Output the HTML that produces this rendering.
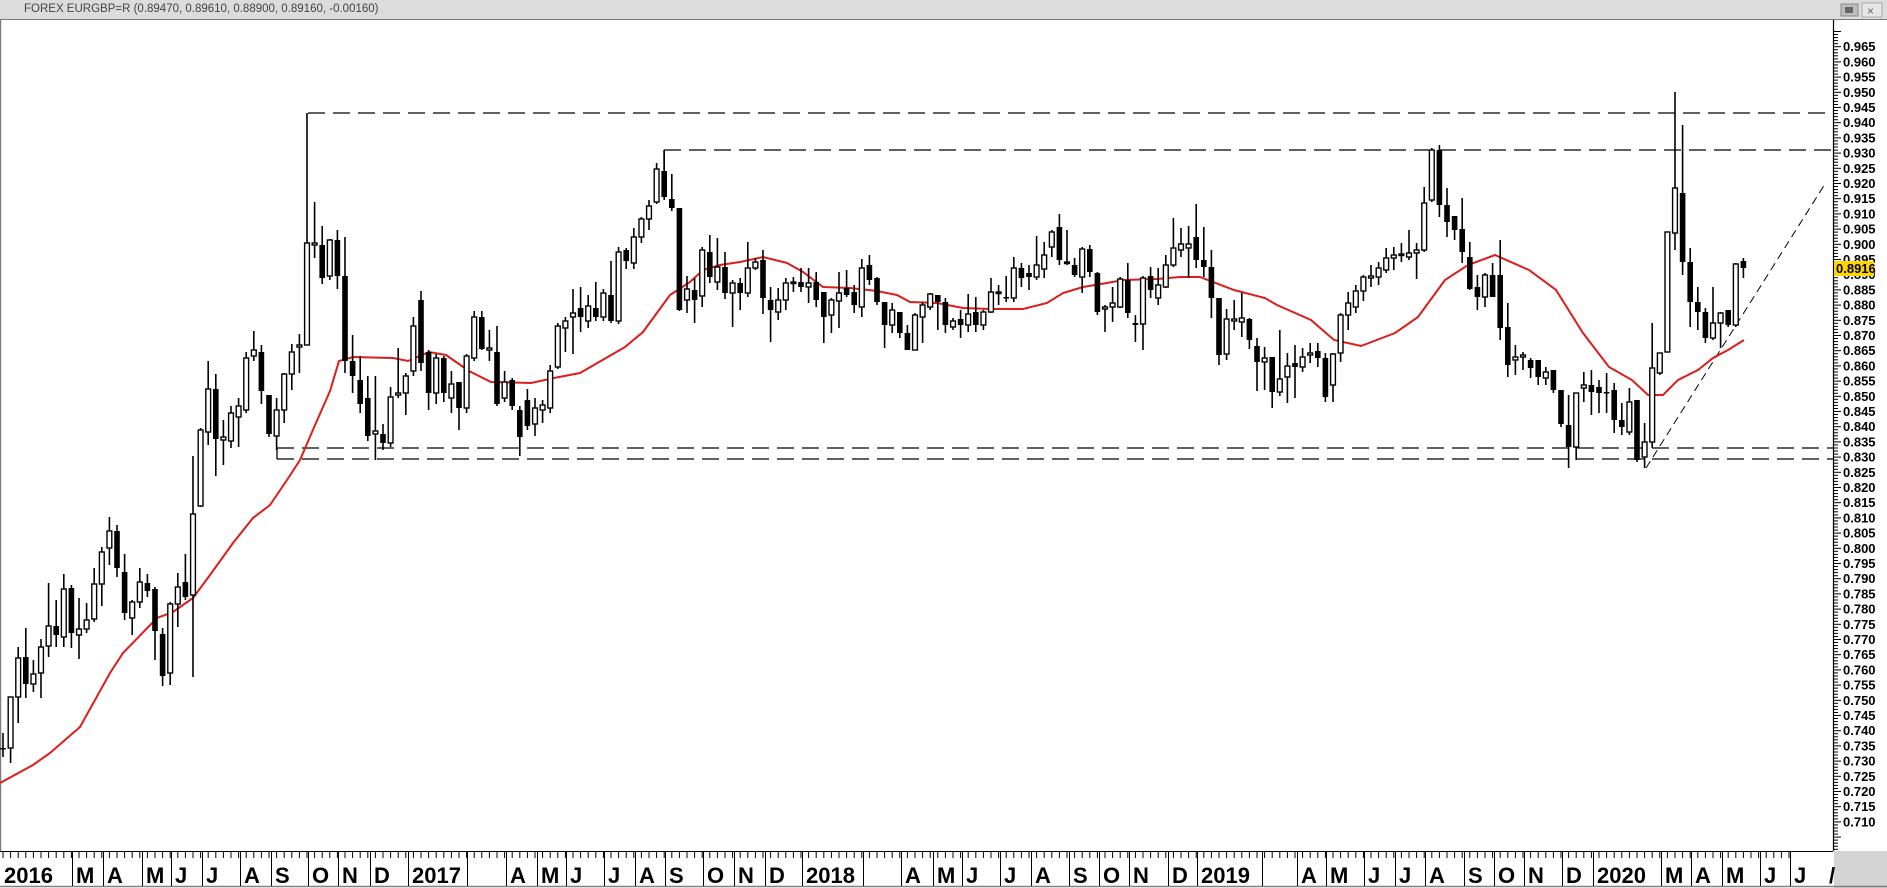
<!DOCTYPE html>
<html><head><meta charset="utf-8">
<style>
html,body{margin:0;padding:0;background:#fff;}
body{width:1887px;height:888px;overflow:hidden;position:relative;font-family:"Liberation Sans",Arial,sans-serif;}
#title{position:absolute;left:0;top:0;width:1887px;height:20px;background:#dcdcdc;border-bottom:1px solid #7a7a7a;box-sizing:border-box;}
#title span{position:absolute;left:24px;top:3px;font-size:11.5px;color:#444;}
svg{position:absolute;left:0;top:0;}
</style></head><body>
<div id="title"><span>FOREX EURGBP=R (0.89470, 0.89610, 0.88900, 0.89160, -0.00160)</span></div>
<svg id="c" width="1887" height="888" xmlns="http://www.w3.org/2000/svg" style="top:0">
<g id="g"></g>
</svg>
<script>
var C=[[748,749,733,757,1],[697,748,697,763,0],[658,697,647,723,0],[657,684,628,698,1],[674,684,660,692,0],[647,673,639,698,0],[626,646,583,657,0],[626,635,600,647,1],[589,637,574,647,0],[588,633,585,648,1],[629,635,598,659,0],[620,629,603,633,0],[584,619,568,622,0],[552,584,547,606,0],[531,548,517,565,0],[531,568,525,577,1],[572,613,554,620,1],[602,618,600,635,0],[582,602,568,608,0],[583,591,574,597,1],[589,631,587,660,1],[634,676,628,686,1],[604,673,602,685,0],[587,604,573,627,0],[582,597,554,600,1],[514,595,456,677,0],[430,506,428,507,0],[389,432,361,445,0],[389,439,374,476,1],[437,440,420,465,0],[413,441,406,448,0],[406,417,398,447,0],[358,410,352,413,0],[350,356,331,361,0],[352,391,345,404,1],[395,434,395,437,1],[410,436,398,450,0],[374,410,373,423,0],[352,374,344,390,0],[345,347,334,373,0],[243,345,113,345,0],[243,245,202,258,0],[245,278,226,284,1],[240,276,239,280,0],[240,276,230,289,1],[276,361,237,373,1],[361,376,335,393,1],[380,404,356,413,1],[398,436,376,441,1],[431,434,376,460,0],[434,443,424,450,1],[397,443,387,447,0],[393,395,348,398,0],[376,393,373,415,0],[326,371,317,376,0],[300,363,291,371,1],[352,393,350,410,1],[358,393,354,404,0],[358,393,356,402,1],[384,398,371,413,0],[382,408,382,430,1],[356,408,354,413,0],[317,358,311,361,0],[317,349,311,350,1],[348,350,330,361,0],[352,404,326,406,1],[382,398,371,402,0],[380,406,378,410,1],[410,437,406,456,1],[400,426,389,430,1],[408,424,398,436,0],[405,410,400,423,0],[371,408,365,413,0],[326,367,323,369,0],[321,328,317,352,0],[313,317,289,354,0],[308,317,287,332,1],[306,321,295,328,0],[308,317,282,321,1],[293,317,289,321,0],[295,321,261,323,1],[252,321,247,324,0],[250,261,248,269,1],[237,263,228,269,0],[219,237,217,243,0],[206,219,200,230,0],[169,202,163,204,0],[171,197,150,200,1],[199,208,174,211,1],[208,310,208,311,1],[289,300,276,313,0],[290,300,278,323,1],[250,296,247,307,0],[252,277,235,283,1],[267,282,238,290,0],[267,293,252,299,1],[283,293,280,327,0],[283,293,278,310,1],[268,293,242,297,0],[262,268,258,270,0],[260,298,250,314,1],[300,310,287,342,1],[300,312,288,320,0],[283,300,278,310,0],[282,283,277,292,0],[282,287,268,292,1],[283,287,268,303,0],[282,300,272,307,1],[292,317,292,343,1],[300,315,298,333,0],[293,301,272,328,0],[288,295,270,297,1],[292,305,285,313,1],[268,307,259,317,0],[265,280,255,285,1],[278,302,277,305,1],[302,325,302,348,1],[310,325,303,333,0],[312,333,312,338,1],[333,350,325,350,1],[315,350,313,350,0],[305,317,302,343,0],[294,307,293,310,0],[295,302,295,330,1],[302,325,298,333,1],[321,327,318,330,0],[319,325,310,338,1],[314,325,294,332,0],[312,325,297,332,1],[312,325,310,330,0],[292,312,278,313,0],[292,293,285,305,0],[297,298,276,302,1],[268,298,257,302,0],[268,278,263,287,1],[273,277,265,290,1],[265,277,236,280,0],[255,269,242,278,0],[232,247,230,257,0],[227,260,214,265,1],[262,263,230,265,0],[265,275,258,277,1],[249,277,247,293,0],[249,272,245,277,1],[273,312,272,315,1],[307,309,305,332,0],[303,307,287,322,0],[279,307,277,308,0],[280,313,263,318,1],[323,325,315,342,1],[278,324,276,350,0],[276,290,267,298,1],[285,298,268,305,0],[265,287,255,288,0],[248,265,218,267,0],[244,250,228,257,0],[244,248,226,278,0],[237,260,204,268,1],[260,267,227,277,1],[267,298,250,318,1],[298,355,298,365,1],[319,354,309,360,0],[319,321,300,330,0],[318,322,293,337,0],[319,340,318,349,1],[346,362,338,391,1],[358,362,347,390,0],[357,392,357,408,1],[379,392,330,396,0],[366,377,353,403,0],[363,367,345,398,1],[357,367,348,372,0],[353,355,343,363,0],[351,358,343,367,1],[358,397,353,402,1],[354,385,353,402,0],[315,353,313,362,0],[303,315,292,330,0],[291,307,285,313,0],[277,291,275,301,0],[276,278,265,287,0],[268,277,262,285,0],[258,270,248,273,0],[255,258,247,270,0],[254,255,243,262,0],[253,257,230,260,0],[250,253,243,279,0],[203,250,187,252,0],[150,200,148,202,0],[150,205,145,217,1],[205,222,188,237,1],[216,230,216,240,1],[229,252,198,263,1],[257,289,242,290,1],[287,297,275,310,1],[275,297,273,307,0],[275,297,263,297,1],[275,328,240,340,1],[327,365,303,377,1],[357,360,345,375,0],[355,357,352,370,0],[360,368,358,378,1],[360,377,360,385,1],[372,378,367,385,0],[370,390,370,393,1],[390,424,390,427,1],[425,447,395,468,1],[393,447,393,460,0],[385,388,372,402,0],[385,392,370,415,1],[387,393,380,413,1],[392,393,373,413,1],[390,420,383,433,1],[420,427,403,435,1],[402,432,388,435,0],[400,460,400,462,1],[442,457,423,468,0],[368,442,323,448,0],[353,373,353,375,0],[232,352,232,352,0],[188,233,92,250,0],[193,262,125,275,1],[262,302,248,327,1],[302,312,287,330,1],[312,338,308,343,1],[323,338,287,340,0],[313,323,312,348,0],[310,325,310,327,1],[264,325,263,327,0],[261,268,258,278,1]];
var MA=[[0,783],[33,765],[50,753],[80,727],[110,673],[123,653],[157,618],[173,612],[193,598],[210,575],[233,543],[253,518],[270,505],[287,480],[300,460],[312,432],[330,391],[339,361],[353,357],[393,358],[408,361],[429,352],[446,355],[469,371],[491,382],[531,383],[554,378],[580,373],[625,347],[643,332],[670,295],[690,282],[703,270],[720,265],[740,262],[763,257],[787,263],[803,272],[823,287],[850,288],[877,291],[897,295],[910,302],[937,303],[963,308],[990,309],[1023,309],[1047,303],[1063,293],[1083,287],[1107,283],[1123,280],[1157,279],[1180,277],[1200,277],[1234,290],[1265,298],[1277,305],[1311,320],[1334,340],[1361,346],[1395,333],[1418,317],[1445,280],[1468,265],[1495,255],[1529,270],[1556,290],[1583,333],[1609,367],[1632,380],[1648,395],[1663,395],[1678,380],[1698,370],[1713,358],[1728,350],[1744,340]];
var s='';
// plot frame
s+='<line x1="0.5" y1="20" x2="0.5" y2="851" stroke="#808080" stroke-width="1.5"/>';
// dashed lines
var d='stroke="#000" stroke-width="1.3" stroke-dasharray="17,8" fill="none"';
s+='<line x1="308" y1="113" x2="1833" y2="113" '+d+'/>';
s+='<line x1="664" y1="150" x2="1833" y2="150" '+d+'/>';
s+='<line x1="277" y1="448" x2="1833" y2="448" '+d+'/>';
s+='<line x1="277" y1="459" x2="1833" y2="459" '+d+'/>';
s+='<line x1="277" y1="448" x2="277" y2="459" stroke="#000" stroke-width="1.3"/>';
s+='<line x1="664" y1="150" x2="664" y2="170" stroke="#000" stroke-width="1.3"/>';
s+='<line x1="1646" y1="468" x2="1825" y2="184" stroke="#000" stroke-width="1" stroke-dasharray="8,5"/>';
// MA
s+='<polyline points="'+MA.map(function(p){return p.join(',')}).join(' ')+'" fill="none" stroke="#dd1c1c" stroke-width="2"/>';
// candles
for(var i=0;i<C.length;i++){var c=C[i],x=3+7.6*i;
 s+='<line x1="'+x+'" y1="'+c[2]+'" x2="'+x+'" y2="'+c[3]+'" stroke="#000" stroke-width="1.6"/>';
 var h=Math.max(c[1]-c[0],1.5);
 if(c[4]) s+='<rect x="'+(x-2.8)+'" y="'+c[0]+'" width="5.6" height="'+h+'" fill="#000"/>';
 else s+='<rect x="'+(x-2.4)+'" y="'+c[0]+'" width="4.8" height="'+h+'" fill="#fff" stroke="#000" stroke-width="1.4"/>';
}
// right axis
s+='<rect x="1834" y="851" width="53" height="37" fill="#d4d4d4"/>';
s+='<line x1="1833.5" y1="20" x2="1833.5" y2="851" stroke="#000" stroke-width="1.2"/>';
for(var k=0;k<=270;k++){var v=0.9700-k*0.001;var y=46.7+(0.965-v)*3040;if(y<22||y>850)continue;
 var major=(k%5===0);
 s+='<line x1="1834" y1="'+y.toFixed(1)+'" x2="'+(major?1841:1838)+'" y2="'+y.toFixed(1)+'" stroke="#000" stroke-width="1"/>';
 if(major && v<0.9655 && v>0.7095){s+='<text x="1843" y="'+(y+4.5).toFixed(1)+'" font-family="Liberation Sans,Arial,sans-serif" font-weight="bold" font-size="13" fill="#000">'+v.toFixed(3)+'</text>';}
}
// price tag
s+='<rect x="1834" y="261" width="40" height="15" fill="#ffd400"/>';
s+='<text x="1836" y="273" font-family="Liberation Sans,Arial,sans-serif" font-weight="bold" font-size="13" fill="#000">0.8916</text>';
// x axis
s+='<line x1="0" y1="851.5" x2="1833" y2="851.5" stroke="#000" stroke-width="1"/>';
s+='<line x1="0" y1="886.5" x2="1887" y2="886.5" stroke="#808080" stroke-width="1.5"/>';
for(var i=0;i<236;i++){var x=3+7.6*i;if(x>1832)break;s+='<line x1="'+x+'" y1="852" x2="'+x+'" y2="858" stroke="#000" stroke-width="1"/>';}
var M=[[0,'2016'],[72,'M'],[103,'A'],[142,'M'],[171,'J'],[202,'J'],[240,'A'],[271,'S'],[308,'O'],[338,'N'],[370,'D'],[408,'2017'],[467,''],[506,'A'],[537,'M'],[566,'J'],[604,'J'],[635,'A'],[665,'S'],[703,'O'],[734,'N'],[765,'D'],[802,'2018'],[863,''],[901,'A'],[933,'M'],[962,'J'],[1000,'J'],[1031,'A'],[1069,'S'],[1099,'O'],[1129,'N'],[1168,'D'],[1197,'2019'],[1262,''],[1297,'A'],[1326,'M'],[1364,'J'],[1395,'J'],[1425,'A'],[1464,'S'],[1494,'O'],[1524,'N'],[1562,'D'],[1593,'2020'],[1661,'M'],[1691,'A'],[1722,'M'],[1760,'J'],[1790,'J']];
for(var j=0;j<M.length;j++){var x=M[j][0];
 if(x>0)s+='<line x1="'+x+'.5" y1="852" x2="'+x+'.5" y2="886" stroke="#000" stroke-width="1"/>';
 if(M[j][1])s+='<text x="'+(x+4)+'" y="883" font-family="Liberation Sans,Arial,sans-serif" font-weight="bold" font-size="22" fill="#000">'+M[j][1]+'</text>';
}
s+='<text x="1829" y="883" font-family="Liberation Sans,Arial,sans-serif" font-weight="bold" font-size="22" fill="#000">/</text>';
// title icons
s+='<rect x="1841" y="4" width="17" height="12" fill="#bdbdbd" stroke="#888"/><rect x="1845" y="7" width="8" height="6" fill="#666"/>';
s+='<rect x="1862" y="3" width="20" height="14" fill="#e6e6e6" stroke="#aaa"/><text x="1867" y="15" font-family="Liberation Sans,Arial,sans-serif" font-size="12" fill="#666">×</text>';
document.getElementById('g').innerHTML=s;
</script>
</body></html>
